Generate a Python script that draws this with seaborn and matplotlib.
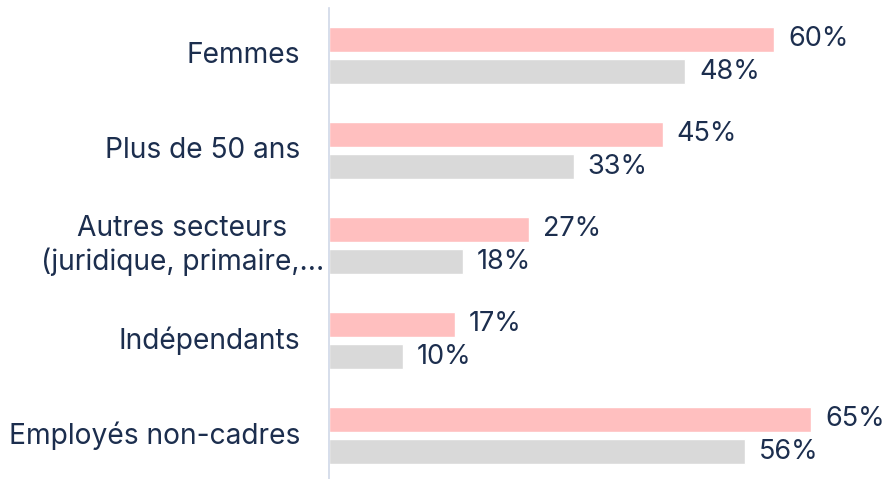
import matplotlib
matplotlib.use("Agg")
import matplotlib.pyplot as plt
import matplotlib.transforms as mtransforms
import seaborn as sns
import pandas as pd

# ---- data ----
categories = ["Femmes", "Plus de 50 ans", "Autres secteurs\n(juridique, primaire,...",
              "Indépendants", "Employés non-cadres"]
series_names = ["Groupe", "Ensemble"]
values_groupe = [60, 45, 27, 17, 65]
values_ensemble = [48, 33, 18, 10, 56]

df = pd.DataFrame({
    "categorie": categories * 2,
    "serie": [series_names[0]] * len(categories) + [series_names[1]] * len(categories),
    "valeur": values_groupe + values_ensemble,
})

navy = "#1C2E4E"
palette = {series_names[0]: "#FFBFBF", series_names[1]: "#D9D9D9"}

sns.set_style("white")
plt.rcParams["font.family"] = ["Inter", "DejaVu Sans"]

fig = plt.figure(figsize=(8.88, 4.79), dpi=100)
ax = fig.add_axes([329 / 888, -4 / 479, 1 - 329 / 888, 475 / 479])

sns.barplot(data=df, y="categorie", x="valeur", hue="serie", order=categories,
            hue_order=series_names, palette=palette, orient="h",
            width=0.674, gap=0.2, saturation=1, legend=False, ax=ax)

for cont in ax.containers:
    ax.bar_label(cont, labels=[f"{v:.0f}%" for v in cont.datavalues],
                 padding=10, fontsize=19.5, color=navy)

ax.set_xlim(0, 559 / 7.42)
ax.set_ylim(4.5, -0.5)
ax.set_xlabel("")
ax.set_ylabel("")
ax.set_xticks([])
ax.set_yticks(range(len(categories)))
ax.set_yticklabels([])
ax.tick_params(left=False)

for s in ["top", "right", "bottom"]:
    ax.spines[s].set_visible(False)
ax.spines["left"].set_color("#D0D8E8")
ax.spines["left"].set_linewidth(1.2)

# category labels, right aligned left of the axis
trans = mtransforms.blended_transform_factory(fig.transFigure, ax.transData)
for i, cat in enumerate(categories):
    if "\n" in cat:
        ax.text(324 / 888, i, cat, transform=trans, ha="right", va="center",
                multialignment="center", fontsize=20.3, color=navy, linespacing=1.25)
    else:
        ax.text(300 / 888, i, cat, transform=trans, ha="right", va="center",
                fontsize=20.3, color=navy)

fig.savefig("out.png", dpi=100)
